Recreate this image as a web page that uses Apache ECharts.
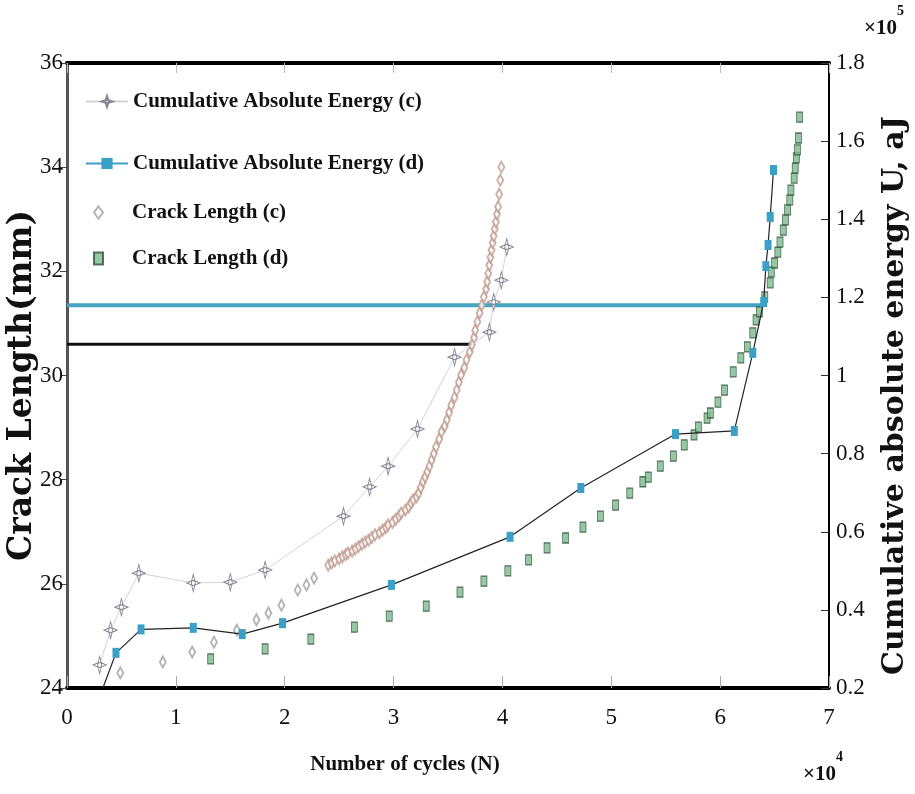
<!DOCTYPE html>
<html>
<head>
<meta charset="utf-8">
<script src="https://cdn.jsdelivr.net/npm/echarts@6/dist/echarts.min.js"></script>
<style>
  html, body { margin: 0; padding: 0; background: #fff; }
  #chart { width: 915px; height: 794px; }
</style>
</head>
<body>
<div id="chart"></div>
<script>
// cycles in units of 10^4
const cyclesEnergyC = [0.30, 0.40, 0.50, 0.66, 1.16, 1.50, 1.82, 2.54, 2.78, 2.95, 3.22, 3.56, 3.88, 3.92, 3.99, 4.04];
const energyC = [0.259, 0.348, 0.407, 0.494, 0.469, 0.471, 0.502, 0.640, 0.715, 0.768, 0.863, 1.047, 1.111, 1.188, 1.244, 1.329];

const cyclesEnergyD = [0.33, 0.45, 0.68, 1.16, 1.61, 1.98, 2.98, 4.07, 4.72, 5.59, 6.13, 6.30, 6.40, 6.42, 6.44, 6.46, 6.49];
const energyD = [0.20, 0.29, 0.35, 0.354, 0.338, 0.366, 0.464, 0.587, 0.712, 0.850, 0.858, 1.058, 1.188, 1.280, 1.334, 1.406, 1.526];

// first 11 points are the sparse grey diamonds, the rest the dense band
const cyclesCrackC = [0.49, 0.88, 1.15, 1.35, 1.56, 1.74, 1.85, 1.97, 2.12, 2.20, 2.27,
  2.40, 2.43, 2.46, 2.50, 2.53, 2.56, 2.58, 2.62, 2.65, 2.68, 2.71, 2.74, 2.77, 2.80, 2.83, 2.87, 2.90, 2.93, 2.95, 2.99,
  3.02, 3.05, 3.07, 3.11, 3.14, 3.16, 3.18, 3.21, 3.23, 3.25, 3.27, 3.29, 3.31, 3.33, 3.35, 3.37, 3.39, 3.42, 3.44, 3.47,
  3.49, 3.51, 3.53, 3.56, 3.58, 3.60, 3.62, 3.65, 3.67, 3.70, 3.72, 3.74, 3.75, 3.77, 3.79, 3.81, 3.83, 3.85, 3.86, 3.87,
  3.88, 3.89, 3.90, 3.91, 3.92, 3.93, 3.94, 3.95, 3.96, 3.97, 3.98, 3.99];
const crackC = [24.29, 24.50, 24.69, 24.88, 25.11, 25.31, 25.44, 25.59, 25.88, 25.98, 26.11,
  26.36, 26.40, 26.44, 26.48, 26.52, 26.56, 26.59, 26.63, 26.67, 26.72, 26.76, 26.80, 26.84, 26.89, 26.94, 26.98, 27.03, 27.08, 27.13, 27.18,
  27.24, 27.30, 27.36, 27.42, 27.48, 27.55, 27.61, 27.67, 27.74, 27.85, 27.96, 28.05, 28.15, 28.26, 28.38, 28.50, 28.63, 28.78, 28.92, 29.03,
  29.15, 29.29, 29.43, 29.58, 29.72, 29.87, 30.01, 30.15, 30.30, 30.45, 30.59, 30.73, 30.87, 31.03, 31.20, 31.35, 31.51, 31.66, 31.80, 31.96,
  32.12, 32.27, 32.41, 32.55, 32.68, 32.82, 32.95, 33.10, 33.24, 33.48, 33.75, 34.00];

const cyclesCrackD = [1.32, 1.82, 2.24, 2.64, 2.96, 3.30, 3.61, 3.83, 4.05, 4.24, 4.41, 4.58, 4.74, 4.90, 5.04, 5.17, 5.29, 5.34, 5.45, 5.57, 5.67, 5.76, 5.80, 5.88, 5.91, 5.98, 6.04, 6.12, 6.19, 6.25, 6.30, 6.33, 6.36, 6.41, 6.46, 6.47, 6.50, 6.53, 6.55, 6.58, 6.60, 6.62, 6.64, 6.65, 6.68, 6.69, 6.70, 6.71, 6.72, 6.73];
const crackD = [24.56, 24.75, 24.94, 25.17, 25.38, 25.57, 25.84, 26.05, 26.25, 26.46, 26.69, 26.88, 27.09, 27.30, 27.51, 27.74, 27.96, 28.05, 28.26, 28.45, 28.67, 28.86, 29.01, 29.18, 29.28, 29.49, 29.72, 30.07, 30.34, 30.55, 30.82, 31.07, 31.22, 31.51, 31.78, 31.99, 32.16, 32.37, 32.56, 32.79, 32.99, 33.18, 33.37, 33.56, 33.79, 33.98, 34.18, 34.33, 34.56, 34.96];

// horizontal reference lines (crack length, mm)
const refBlackX = [0, 3.72];
const refBlackY = 30.6;
const refBlueX = [0, 6.39];
const refBlueY = 31.35;

const xTicks = [0, 7, 1];
const leftTicks = [24, 36, 2];
const rightTicks = [0.2, 1.8, 0.2];

const serif = 'Liberation Serif';
const starPath = 'path://M0,-10 L2.5,-2.5 L10,0 L2.5,2.5 L0,10 L-2.5,2.5 L-10,0 L-2.5,-2.5 Z M3,0 A3,3 0 1 1 -3,0 A3,3 0 1 1 3,0 Z';

function pairs(xs, ys) {
  return xs.map((x, i) => [x, ys[i]]);
}

const legendText = { fontFamily: serif, fontSize: 21, fontWeight: 'bold', color: '#111' };
const legendLine = { left: 85, padding: 0, itemWidth: 42, itemHeight: 14, textStyle: legendText };
// marker-only entries: small icon, text pushed to line up with the others
const legendMark = {
  left: 93, padding: 0, itemWidth: 9, itemHeight: 12,
  textStyle: Object.assign({}, legendText, { padding: [0, 0, 0, 24] })
};

let option = {
  backgroundColor: '#fff',
  animation: false,
  grid: { left: 67, right: 86, top: 63, bottom: 106, containLabel: false, outerBoundsMode: 'none' },
  legend: [
    Object.assign({}, legendLine, { top: 91, data: ['Cumulative Absolute Energy (c)'] }),
    Object.assign({}, legendLine, { top: 153, data: ['Cumulative Absolute Energy (d)'], lineStyle: { color: '#3aa0c8' } }),
    Object.assign({}, legendMark, {
      top: 202,
      data: [{ name: 'Crack Length (c)', icon: 'emptyDiamond' }],
      itemStyle: { color: '#a0a0a0', borderColor: '#a0a0a0', borderWidth: 1 }
    }),
    Object.assign({}, legendMark, { top: 248, data: ['Crack Length (d)'] })
  ],
  xAxis: [
    {
      type: 'value',
      min: xTicks[0], max: xTicks[1], interval: xTicks[2],
      name: 'Number of cycles (N)',
      nameLocation: 'middle',
      nameGap: 66,
      nameMoveOverlap: false,
      nameTextStyle: { fontFamily: serif, fontSize: 21, fontWeight: 'bold', color: '#111', padding: [0, 86, 0, 0] },
      axisLine: { onZero: false, lineStyle: { color: '#000', width: 4 } },
      axisTick: { inside: true, length: 12, lineStyle: { color: '#aaa' } },
      axisLabel: { margin: 18, fontFamily: serif, fontSize: 23, color: '#111' },
      splitLine: { show: false }
    },
    {
      type: 'value',
      position: 'top',
      min: xTicks[0], max: xTicks[1], interval: xTicks[2],
      axisLine: { onZero: false, lineStyle: { color: '#000', width: 4 } },
      axisTick: { inside: true, length: 10, lineStyle: { color: '#bbb' } },
      axisLabel: { show: false },
      splitLine: { show: false }
    }
  ],
  yAxis: [
    {
      type: 'value',
      position: 'left',
      min: leftTicks[0], max: leftTicks[1], interval: leftTicks[2],
      name: 'Crack Length(mm)',
      nameLocation: 'middle',
      nameRotate: 90,
      nameGap: 28,
      nameMoveOverlap: false,
      nameTextStyle: { fontFamily: 'DejaVu Serif', fontSize: 33, fontWeight: 'bold', color: '#111', padding: [0, 20, 0, 0] },
      axisLine: { onZero: false, lineStyle: { color: '#555', width: 3 } },
      axisTick: { length: 7, lineStyle: { color: '#444' } },
      axisLabel: { margin: 4, fontFamily: serif, fontSize: 23, color: '#111' },
      splitLine: { show: false }
    },
    {
      type: 'value',
      position: 'right',
      min: rightTicks[0], max: rightTicks[1], interval: rightTicks[2],
      name: 'Cumulative absolute energy U, aJ',
      nameLocation: 'middle',
      nameRotate: 90,
      nameGap: 51,
      nameMoveOverlap: false,
      nameTextStyle: { fontFamily: 'DejaVu Serif', fontSize: 30, fontWeight: 'bold', color: '#111', padding: [0, 40, 0, 0] },
      axisLine: { onZero: false, lineStyle: { color: '#000', width: 2 } },
      axisTick: { inside: true, length: 8, lineStyle: { color: '#333' } },
      axisLabel: { margin: 7, fontFamily: serif, fontSize: 23, color: '#111' },
      splitLine: { show: false }
    }
  ],
  graphic: [
    {
      type: 'text', left: 864, top: 4,
      style: {
        text: '{a|×10}{b|5}',
        rich: {
          a: { fontFamily: serif, fontSize: 21, fontWeight: 'bold', fill: '#111', padding: [14, 0, 0, 0] },
          b: { fontFamily: serif, fontSize: 14, fontWeight: 'bold', fill: '#111', verticalAlign: 'top' }
        }
      }
    },
    {
      type: 'text', left: 803, top: 750,
      style: {
        text: '{a|×10}{b|4}',
        rich: {
          a: { fontFamily: serif, fontSize: 21, fontWeight: 'bold', fill: '#111', padding: [14, 0, 0, 0] },
          b: { fontFamily: serif, fontSize: 14, fontWeight: 'bold', fill: '#111', verticalAlign: 'top' }
        }
      }
    }
  ],
  series: [
    {
      name: 'refBlack',
      type: 'line',
      yAxisIndex: 0,
      data: refBlackX.map(x => [x, refBlackY]),
      showSymbol: false,
      lineStyle: { color: '#111', width: 3 },
      silent: true,
      z: 1
    },
    {
      name: 'refBlue',
      type: 'line',
      yAxisIndex: 0,
      data: refBlueX.map(x => [x, refBlueY]),
      showSymbol: false,
      lineStyle: { color: '#45a4c2', width: 4 },
      silent: true,
      z: 1
    },
    {
      name: 'Cumulative Absolute Energy (c)',
      type: 'line',
      yAxisIndex: 1,
      data: pairs(cyclesEnergyC, energyC),
      symbol: starPath,
      symbolSize: [13, 17],
      lineStyle: { color: '#d4d4d8', width: 1 },
      itemStyle: { color: '#fff', borderColor: '#8a8a98', borderWidth: 1 },
      z: 3
    },
    {
      name: 'Cumulative Absolute Energy (d)',
      type: 'line',
      yAxisIndex: 1,
      // the first point sits on the axis without a marker
      data: pairs(cyclesEnergyD, energyD).map((p, i) => i === 0 ? { value: p, symbol: 'none' } : p),
      symbol: 'rect',
      symbolSize: [7, 10],
      lineStyle: { color: '#222', width: 1.2 },
      itemStyle: { color: '#3aa0c8' },
      z: 4
    },
    {
      name: 'Crack Length (c)',
      type: 'scatter',
      yAxisIndex: 0,
      data: pairs(cyclesCrackC, crackC),
      symbol: 'emptyDiamond',
      symbolSize: [6, 11],
      itemStyle: {
        // sparse early points are grey, dense ones brownish
        color: function (p) { return p.dataIndex < 11 ? '#a0a0a0' : '#bf9a8c'; },
        borderWidth: 1.2
      },
      z: 2
    },
    {
      name: 'Crack Length (d)',
      type: 'scatter',
      yAxisIndex: 0,
      data: pairs(cyclesCrackD, crackD),
      symbol: 'rect',
      symbolSize: [6, 10],
      itemStyle: { color: '#7cba8c', borderColor: '#2f4f3a', borderWidth: 1 },
      z: 2
    }
  ]
};

let chart = echarts.init(document.getElementById('chart'));
chart.setOption(option);
</script>
</body>
</html>
